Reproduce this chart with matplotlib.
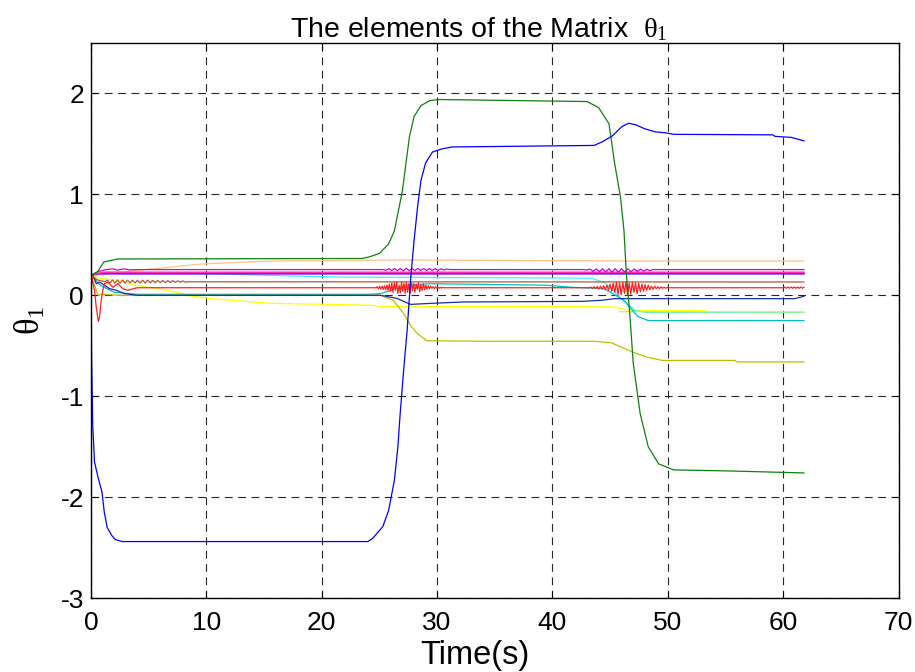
import matplotlib
matplotlib.use('Agg')
import matplotlib.pyplot as plt
import numpy as np

plt.rcParams['font.family'] = ['Liberation Sans', 'DejaVu Sans']
plt.rcParams['mathtext.fontset'] = 'custom'
plt.rcParams['mathtext.rm'] = 'Liberation Serif'
plt.rcParams['mathtext.it'] = 'Liberation Serif'
plt.rcParams['axes.unicode_minus'] = False

# ---- data (time in s, value of each element) ----
blue_t = [0, 0.05, 0.15, 0.3, 0.6, 0.95, 1.15, 1.4, 1.8, 2.1, 2.7, 24.0, 24.4, 25.3,
          25.8, 26.3, 26.6, 26.8, 27.1, 27.4, 27.7, 28.0, 28.3, 28.6, 29.0, 29.6, 30.4,
          31.3, 43.6, 44.3, 45.2, 46.0, 46.6, 47.2, 48.0, 48.9, 49.8, 50.5, 59.1, 59.3,
          60.7, 61.8]
blue_y = [0.2, -0.64, -1.3, -1.65, -1.8, -1.95, -2.15, -2.3, -2.38, -2.42, -2.44, -2.44,
          -2.41, -2.29, -2.13, -1.83, -1.5, -1.17, -0.74, -0.35, 0.15, 0.54, 0.87, 1.14,
          1.31, 1.42, 1.45, 1.47, 1.485, 1.52, 1.58, 1.67, 1.705, 1.69, 1.65, 1.62, 1.61,
          1.595, 1.59, 1.575, 1.565, 1.53]

green_t = [0, 0.55, 1.1, 2.3, 23.5, 24.1, 25.0, 25.8, 26.3, 26.7, 27.0, 27.3, 27.6, 28.0,
           28.6, 29.4, 30.2, 43.0, 44.0, 44.9, 45.4, 45.9, 46.2, 46.4, 46.7, 47.0, 47.6,
           48.3, 49.2, 50.5, 55.2, 61.8]
green_y = [0.2, 0.23, 0.33, 0.36, 0.365, 0.38, 0.415, 0.51, 0.64, 0.87, 1.04, 1.31, 1.57,
           1.77, 1.88, 1.93, 1.94, 1.92, 1.86, 1.70, 1.3, 0.97, 0.64, 0.22, -0.18, -0.67,
           -1.17, -1.5, -1.67, -1.73, -1.74, -1.76]

peach_t = [0, 5.2, 9.5, 11.5, 15.9, 27.0, 46.6, 61.8]
peach_y = [0.2, 0.26, 0.31, 0.32, 0.34, 0.35, 0.34, 0.34]

magenta_t = [0, 0.6, 1.3, 1.9, 2.3, 2.9, 3.3, 4.0, 25.0]
magenta_y = [0.2, 0.235, 0.255, 0.262, 0.25, 0.262, 0.252, 0.255, 0.255]
magenta_burst1 = [0.255, 0.248, 0.264, 0.246, 0.266, 0.244, 0.266, 0.244, 0.267, 0.245,
                  0.266, 0.245, 0.266, 0.246, 0.265, 0.246, 0.265, 0.247, 0.264, 0.248,
                  0.263, 0.25, 0.26, 0.255]
magenta_burst2 = [0.255, 0.25, 0.26, 0.238, 0.262, 0.234, 0.262, 0.232, 0.263, 0.23,
                  0.263, 0.23, 0.263, 0.232, 0.262, 0.234, 0.261, 0.236, 0.26, 0.24,
                  0.258, 0.244, 0.256, 0.255]

hotpink_t = [0, 1.0, 61.8]
hotpink_y = [0.2, 0.228, 0.228]

violet_t = [0, 0.8, 61.8]
violet_y = [0.2, 0.213, 0.213]

lightcyan_t = [0, 1.5, 8.0, 18.0, 22.0, 43.4, 44.6, 45.4, 46.3, 47.2, 48.1, 53.0, 61.8]
lightcyan_y = [0.2, 0.23, 0.22, 0.19, 0.18, 0.17, 0.12, 0.03, -0.07, -0.15, -0.17, -0.17,
               -0.17]

brown_t = [0, 0.6]
brown_y = [0.2, 0.15]
brown_wiggle = [0.135, 0.15, 0.122, 0.152, 0.12, 0.152, 0.12, 0.152, 0.12, 0.15, 0.122,
                0.15, 0.122, 0.15, 0.122, 0.15, 0.122, 0.15, 0.124, 0.148, 0.124, 0.148,
                0.125, 0.147, 0.126, 0.146, 0.127, 0.145, 0.128, 0.144, 0.129, 0.142,
                0.13, 0.134]
brown_end_y = 0.132

red_t = [0, 0.3, 0.45, 0.63, 0.74, 0.88, 1.02, 1.17, 1.45, 1.89, 2.32, 2.75, 3.19, 4.0]
red_y = [0.2, 0.05, -0.116, -0.26, -0.215, -0.05, 0.05, 0.116, 0.13, 0.08, 0.116, 0.066,
         0.05, 0.075]
red_burst1 = [0.075, 0.085, 0.065, 0.088, 0.062, 0.09, 0.06, 0.095, 0.055, 0.10, 0.05,
              0.11, 0.04, 0.12, 0.03, 0.125, 0.05, 0.13, 0.02, 0.10, 0.025, 0.13, 0.04,
              0.12, 0.02, 0.13, 0.03, 0.115, 0.02, 0.125, 0.045, 0.12, 0.03, 0.11, 0.06,
              0.125, 0.035, 0.105, 0.05, 0.115, 0.055, 0.10, 0.06, 0.095, 0.065, 0.09,
              0.07, 0.085, 0.065, 0.085, 0.07, 0.082, 0.07, 0.08, 0.072, 0.08, 0.075]
red_burst2 = [0.075, 0.082, 0.068, 0.085, 0.066, 0.088, 0.062, 0.09, 0.06, 0.095, 0.055,
              0.10, 0.05, 0.11, 0.04, 0.12, 0.03, 0.13, 0.01, 0.125, 0.005, 0.13, 0.02,
              0.135, 0.0, 0.12, 0.01, 0.13, 0.03, 0.125, 0.015, 0.12, 0.035, 0.11, 0.04,
              0.105, 0.05, 0.10, 0.055, 0.09, 0.06, 0.09, 0.065, 0.085, 0.065, 0.085,
              0.07, 0.08, 0.07, 0.08, 0.075]
red_burst3 = [0.075, 0.082, 0.07, 0.082, 0.07, 0.082, 0.07, 0.082, 0.07, 0.082, 0.07,
              0.082, 0.07, 0.08]

teal_t = [0, 0.8, 2.0, 4.0, 24.0, 25.1, 27.4, 29.4, 39.5, 41.6, 44.5, 46.2, 47.4, 48.3, 61.8]
teal_y = [0.2, 0.1, 0.03, 0.01, 0.01, 0.017, 0.1, 0.115, 0.1, 0.08, 0.066, -0.05, -0.21,
          -0.25, -0.25]

navy_t = [0, 0.15, 0.45, 0.74, 1.17, 1.6, 2.2, 2.9, 4.0, 24.0, 25.1, 26.5, 27.7, 29.4,
          32.3, 42.5, 44.2, 45.4, 61.0, 61.8]
navy_y = [0.2, 0.2, 0.116, 0.13, 0.1, 0.066, 0.05, 0.017, 0.0, 0.0, 0.0, -0.03, -0.09,
          -0.08, -0.066, -0.06, -0.05, -0.033, -0.033, -0.01]

olive_t = [0, 0.3, 0.6, 1.0, 2.5, 25.1, 26.2, 27.1, 27.7, 28.3, 29.1, 33.7, 43.6, 45.1,
           46.9, 48.1, 49.5, 55.8, 56.0, 61.8]
olive_y = [0.2, 0.1, 0.0, 0.01, 0.0, 0.0, -0.05, -0.18, -0.3, -0.38, -0.45, -0.455,
           -0.455, -0.47, -0.56, -0.61, -0.645, -0.645, -0.66, -0.66]

yellow_t = [0, 0.9, 2.3, 3.8, 6.6, 8.4, 10.1, 15.6, 21.1, 24.5, 25.0, 40.8, 45.4, 46.6,
            53.3]
yellow_y = [0.2, 0.165, 0.15, 0.1, 0.05, 0.0, -0.03, -0.08, -0.09, -0.1, -0.11, -0.11,
            -0.116, -0.15, -0.15]

yellowgreen_t = [45.8, 61.8]
yellowgreen_y = [-0.162, -0.165]

# bursts: (start time, end time, values)
mag_bursts = [(25.3, 31.1, magenta_burst1), (42.7, 49.0, magenta_burst2)]
red_bursts = [(24.7, 30.6, red_burst1), (43.2, 50.1, red_burst2), (60.0, 61.8, red_burst3)]


def join_bursts(t0, y0, bursts, t_last, y_last):
    ts, ys = [np.asarray(t0, float)], [np.asarray(y0, float)]
    for a, b, vals in bursts:
        ts.append(np.linspace(a, b, len(vals)))
        ys.append(np.asarray(vals, float))
    if t_last is not None:
        ts.append(np.array([t_last]))
        ys.append(np.array([y_last]))
    return np.concatenate(ts), np.concatenate(ys)


mag_T, mag_Y = join_bursts(magenta_t, magenta_y, mag_bursts, 61.8, 0.255)
red_T, red_Y = join_bursts(red_t, red_y, red_bursts, None, None)
brown_T, brown_Y = join_bursts(brown_t, brown_y, [(1.2, 8.4, brown_wiggle)], 61.8,
                               brown_end_y)

fig = plt.figure(figsize=(9.15, 6.72), dpi=100)
ax = fig.add_axes([0.0995, 0.110, 0.8825, 0.826])

lw = 0.9
ax.plot(peach_t, peach_y, color='#ffc08a', lw=lw)
ax.plot(yellow_t, yellow_y, color='#ffff00', lw=lw)
ax.plot(lightcyan_t, lightcyan_y, color='#40f0ff', lw=lw)
ax.plot(yellowgreen_t, yellowgreen_y, color='#d4f040', lw=lw)
ax.plot(teal_t, teal_y, color='#00c0c0', lw=lw)
ax.plot(olive_t, olive_y, color='#bfbf00', lw=lw)
ax.plot(navy_t, navy_y, color='#1830a0', lw=lw)
ax.plot(brown_T, brown_Y, color='#b05a38', lw=lw)
ax.plot(red_T, red_Y, color='#ff2020', lw=lw)
ax.plot(violet_t, violet_y, color='#7a10f0', lw=1.2)
ax.plot(hotpink_t, hotpink_y, color='#ff30b0', lw=1.2)
ax.plot(mag_T, mag_Y, color='#d000d0', lw=lw)
ax.plot(green_t, green_y, color='#108010', lw=lw)
ax.plot(blue_t, blue_y, color='#0000ff', lw=lw)

ax.set_xlim(0, 70)
ax.set_ylim(-3, 2.5)
ax.set_xticks(np.arange(0, 71, 10))
ax.set_yticks(np.arange(-3, 2.1, 1))
ax.grid(True, color='black', linestyle=(0, (7, 5)), linewidth=0.8, alpha=0.85)
ax.tick_params(direction='in', top=True, right=True, length=5, labelsize=19, width=0.8)
ax.tick_params(axis='x', pad=9)
ax.tick_params(axis='y', pad=5)
for s in ax.spines.values():
    s.set_linewidth(1.0)

ax.set_title('The elements of the Matrix  $\\theta_1$', fontsize=20.5, x=0.48, pad=4)
ax.set_xlabel('Time(s)', fontsize=23.5)
ax.xaxis.set_label_coords(0.475, -0.075, transform=ax.transAxes)
ax.xaxis.label.set_va('top')
ax.set_ylabel('$\\theta_1$', fontsize=25, labelpad=10)

fig.savefig('out.png', dpi=100)
